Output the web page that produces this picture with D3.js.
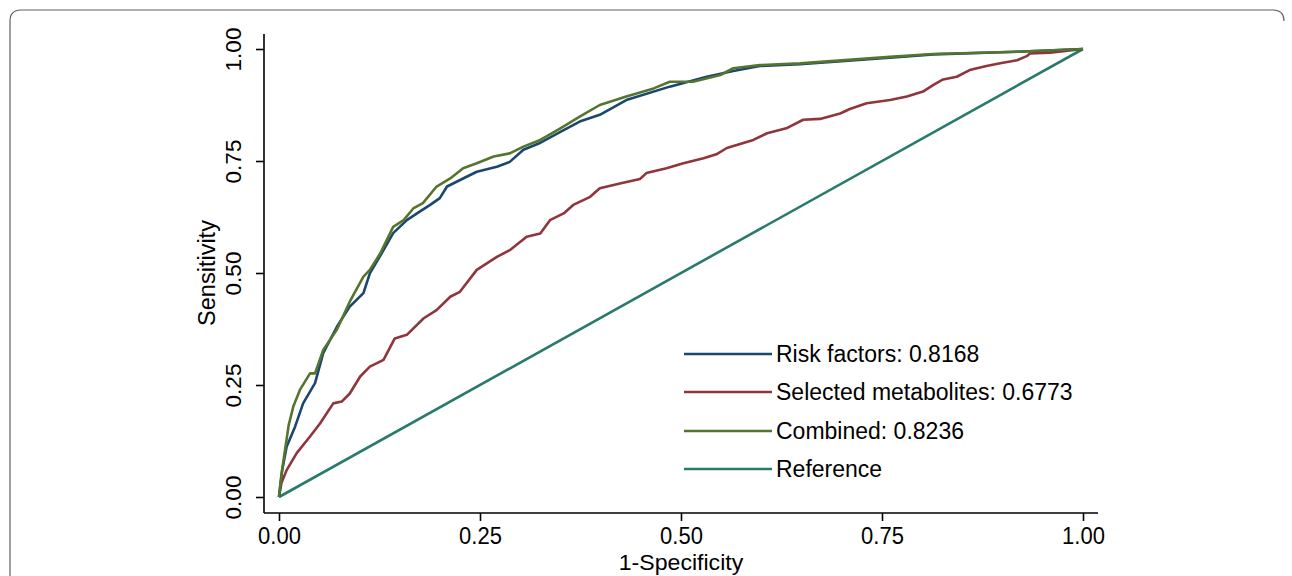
<!DOCTYPE html>
<html>
<head>
<meta charset="utf-8">
<script src="https://cdn.jsdelivr.net/npm/d3@7"></script>
<style>
  html, body { margin: 0; padding: 0; background: #fff; }
  svg { display: block; }
</style>
</head>
<body>
<div id="chart"></div>
<script>
// ROC curves, values (fpr = 1-specificity, tpr = sensitivity)
const riskFpr = [0, 0.004, 0.0095, 0.02, 0.030, 0.0448, 0.055, 0.072, 0.088, 0.105, 0.113, 0.130, 0.142, 0.159, 0.175, 0.188, 0.200, 0.209, 0.229, 0.246, 0.271, 0.287, 0.304, 0.323, 0.350, 0.374, 0.399, 0.432, 0.486, 0.532, 0.565, 0.598, 0.648, 0.764, 0.814, 0.918, 1];
const riskTpr = [0, 0.06, 0.112, 0.157, 0.209, 0.254, 0.321, 0.380, 0.425, 0.455, 0.499, 0.551, 0.589, 0.618, 0.637, 0.652, 0.667, 0.693, 0.711, 0.726, 0.737, 0.748, 0.775, 0.789, 0.815, 0.838, 0.853, 0.886, 0.916, 0.938, 0.951, 0.962, 0.966, 0.981, 0.988, 0.994, 1];

const metabFpr = [0, 0.003, 0.0095, 0.022, 0.0386, 0.051, 0.0675, 0.078, 0.088, 0.101, 0.113, 0.130, 0.144, 0.159, 0.180, 0.196, 0.213, 0.225, 0.246, 0.271, 0.287, 0.308, 0.325, 0.337, 0.354, 0.366, 0.387, 0.399, 0.424, 0.449, 0.457, 0.482, 0.503, 0.528, 0.544, 0.557, 0.590, 0.607, 0.631, 0.652, 0.673, 0.698, 0.710, 0.731, 0.760, 0.781, 0.801, 0.814, 0.826, 0.843, 0.859, 0.880, 0.897, 0.918, 0.930, 0.934, 0.959, 1];
const metabTpr = [0, 0.031, 0.060, 0.098, 0.135, 0.164, 0.209, 0.213, 0.231, 0.269, 0.291, 0.306, 0.354, 0.362, 0.399, 0.417, 0.447, 0.458, 0.507, 0.536, 0.551, 0.581, 0.588, 0.618, 0.633, 0.652, 0.670, 0.689, 0.700, 0.710, 0.723, 0.734, 0.745, 0.756, 0.765, 0.779, 0.797, 0.812, 0.823, 0.842, 0.844, 0.856, 0.866, 0.879, 0.886, 0.894, 0.905, 0.920, 0.932, 0.938, 0.953, 0.962, 0.968, 0.975, 0.984, 0.990, 0.992, 1];

const combFpr = [0, 0.003, 0.0075, 0.012, 0.0178, 0.026, 0.0386, 0.0448, 0.055, 0.0718, 0.088, 0.105, 0.113, 0.126, 0.142, 0.155, 0.167, 0.179, 0.196, 0.213, 0.229, 0.246, 0.267, 0.287, 0.304, 0.325, 0.350, 0.374, 0.399, 0.432, 0.466, 0.486, 0.515, 0.549, 0.565, 0.598, 0.648, 0.764, 0.814, 0.918, 1];
const combTpr = [0, 0.05, 0.105, 0.16, 0.202, 0.239, 0.276, 0.276, 0.328, 0.373, 0.436, 0.492, 0.507, 0.544, 0.603, 0.618, 0.644, 0.656, 0.693, 0.711, 0.734, 0.745, 0.760, 0.767, 0.782, 0.797, 0.823, 0.849, 0.875, 0.894, 0.912, 0.927, 0.927, 0.942, 0.957, 0.964, 0.968, 0.983, 0.989, 0.994, 1];

const refFpr = [0, 1];
const refTpr = [0, 1];

const seriesNames = ["Risk factors: 0.8168", "Selected metabolites: 0.6773", "Combined: 0.8236", "Reference"];
const seriesColors = ["#1a476f", "#90353b", "#55752f", "#2a7a6c"];
const tickValues = [0, 0.25, 0.5, 0.75, 1];
const xTitle = "1-Specificity";
const yTitle = "Sensitivity";

const width = 1292, height = 576;
const font = "'Liberation Sans', Arial, sans-serif";

const svg = d3.select("#chart").append("svg")
  .attr("width", width)
  .attr("height", height);

// outer frame: left and top edges, rounded corners, cut by the bottom of the picture
svg.append("path")
  .attr("d", "M10,600 L10,21 Q10,10 21,10 L1273,10 Q1284,10 1284,21")
  .attr("fill", "none")
  .attr("stroke", "#606060")
  .attr("stroke-width", 1.2);

const x = d3.scaleLinear().domain([0, 1]).range([279, 1083]);
const y = d3.scaleLinear().domain([0, 1]).range([497, 49]);

const axisX0 = 264, axisY0 = 513;

// y axis
const yAxis = svg.append("g")
  .attr("transform", `translate(${axisX0},0)`)
  .call(d3.axisLeft(y).tickValues(tickValues).tickFormat(d3.format(".2f")).tickSize(8).tickSizeOuter(0));
yAxis.select(".domain").attr("d", `M0,34V${axisY0}`).attr("stroke", "#000").attr("stroke-width", 1.6);
yAxis.selectAll(".tick line").attr("stroke", "#000").attr("stroke-width", 1.6);
yAxis.selectAll(".tick text")
  .attr("x", null).attr("dy", null)
  .attr("transform", "translate(-23,0) rotate(-90)")
  .attr("text-anchor", "middle")
  .attr("font-family", font)
  .attr("font-size", 22.5)
  .attr("fill", "#000");

// x axis
const xAxis = svg.append("g")
  .attr("transform", `translate(0,${axisY0})`)
  .call(d3.axisBottom(x).tickValues(tickValues).tickFormat(d3.format(".2f")).tickSize(8).tickSizeOuter(0));
xAxis.select(".domain").attr("d", `M${axisX0},0H1098`).attr("stroke", "#000").attr("stroke-width", 1.6);
xAxis.selectAll(".tick line").attr("stroke", "#000").attr("stroke-width", 1.6);
xAxis.selectAll(".tick text")
  .attr("y", null).attr("dy", null)
  .attr("transform", "translate(0,31) scale(1,1.1)")
  .attr("text-anchor", "middle")
  .attr("font-family", font)
  .attr("font-size", 22)
  .attr("fill", "#000");

// axis titles
svg.append("text")
  .attr("transform", "translate(681,570) scale(1.05,1)")
  .attr("text-anchor", "middle")
  .attr("font-family", font)
  .attr("font-size", 22)
  .text(xTitle);

svg.append("text")
  .attr("transform", "translate(215,273) rotate(-90)")
  .attr("text-anchor", "middle")
  .attr("font-family", font)
  .attr("font-size", 23.5)
  .text(yTitle);

// curves
const series = [
  { fpr: riskFpr, tpr: riskTpr },
  { fpr: metabFpr, tpr: metabTpr },
  { fpr: combFpr, tpr: combTpr },
  { fpr: refFpr, tpr: refTpr }
].map((s, i) => ({
  name: seriesNames[i],
  color: seriesColors[i],
  points: s.fpr.map((f, j) => [f, s.tpr[j]])
}));

const line = d3.line().x(d => x(d[0])).y(d => y(d[1]));

// reference first, then metabolites, risk, combined on top
const order = [3, 1, 0, 2];
svg.append("g").selectAll("path")
  .data(order.map(i => series[i]))
  .join("path")
  .attr("d", d => line(d.points))
  .attr("fill", "none")
  .attr("stroke", d => d.color)
  .attr("stroke-width", 2.6)
  .attr("stroke-linejoin", "round");

// legend
const legendY = [354, 392, 431, 469];
const legend = svg.append("g").selectAll("g")
  .data(series)
  .join("g")
  .attr("transform", (d, i) => `translate(684,${legendY[i]})`);

legend.append("line")
  .attr("x1", 0).attr("x2", 88)
  .attr("stroke", d => d.color)
  .attr("stroke-width", 2.6);

legend.append("text")
  .attr("x", 92)
  .attr("y", 8)
  .attr("font-family", font)
  .attr("font-size", 23)
  .attr("fill", "#000")
  .text(d => d.name);
</script>
</body>
</html>
